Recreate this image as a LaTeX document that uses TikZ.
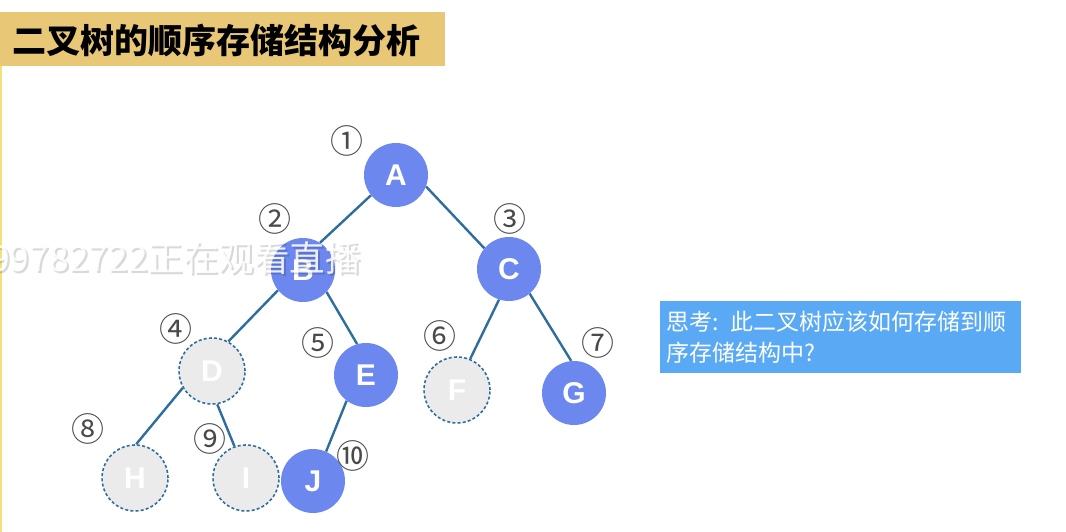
\documentclass[tikz,border=0pt]{standalone}
\usepackage{fontspec}
\setmainfont{Liberation Sans}
\newfontfamily\cjk{Noto Sans CJK SC}
\usetikzlibrary{backgrounds}
\definecolor{nodeblue}{HTML}{6C87EE}
\definecolor{edgeblue}{HTML}{2E6E9E}
\definecolor{emptyfill}{HTML}{EBEBEB}
\definecolor{numgrey}{HTML}{4A4A4A}
\definecolor{titlebar}{HTML}{E8C777}
\definecolor{boxblue}{HTML}{59A9F5}
\definecolor{edgeyellow}{HTML}{F3E07A}
\begin{document}
\begin{tikzpicture}[x=1pt,y=-1pt,
  full/.style={circle,minimum size=64pt,inner sep=0pt,fill=nodeblue,text=white,
    font=\fontsize{30}{30}\selectfont\bfseries},
  hollow/.style={circle,minimum size=66pt,inner sep=0pt,fill=emptyfill,draw=edgeblue,
    line width=1.6pt,dash pattern=on 3pt off 2.2pt,text=white,
    font=\fontsize{30}{30}\selectfont\bfseries},
  treeedge/.style={draw=edgeblue,line width=2.4pt},
  num/.style={text=numgrey,inner sep=0pt,font=\cjk\fontsize{33}{33}\selectfont}
]
\useasboundingbox (0,0) rectangle (1066,532);
% title
\fill[titlebar] (0,12) rectangle (445,66);
\node[anchor=west,inner sep=0pt,font=\cjk\bfseries\fontsize{34}{34}\selectfont] (title) at (12,40) {二叉树的顺序存储结构分析};
\fill[edgeyellow] (0,66) rectangle (1.6,532);

% nodes
\node[full] (A) at (396,175) {A};
\node[full] (B) at (303,270) {B};
\node[full] (C) at (509,269) {C};
\node[hollow] (D) at (212,371) {D};
\node[full] (E) at (366,375) {E};
\node[hollow] (F) at (457,390) {F};
\node[full] (G) at (574,393) {G};
\node[hollow] (H) at (135,478) {H};
\node[hollow] (I) at (246,478) {I};
\node[full] (J) at (313,481) {J};

% numbers
\node[num] (n1) at (347,141) {①};
\node[num] (n2) at (275,219) {②};
\node[num] (n3) at (510,219) {③};
\node[num] (n4) at (176,329) {④};
\node[num] (n5) at (318,343) {⑤};
\node[num] (n6) at (440,336) {⑥};
\node[num] (n7) at (598,343) {⑦};
\node[num] (n8) at (88,429) {⑧};
\node[num] (n9) at (210,439) {⑨};
\node[num] (n10) at (353,456) {⑩};

% edges
\begin{scope}[on background layer]
\fill[white] (0,0) rectangle (1066,532);
\fill[titlebar] (0,12) rectangle (445,66);
\draw[treeedge] (A.219) -- (B.58);
\draw[treeedge] (A.339) -- (C.140);
\draw[treeedge] (B.219) -- (D.61);
\draw[treeedge] (B.317) -- (E.106);
\draw[treeedge] (C.252) -- (F.67);
\draw[treeedge] (C.310) -- (G.95);
\draw[treeedge] (D.210) -- (H.88);
\draw[treeedge] (D.279) -- (I.110);
\draw[treeedge] (E.233) -- (J.66);
\end{scope}

% question box
\node[fill=boxblue,anchor=north west,minimum width=361pt,minimum height=72pt,
  text width=349pt,inner xsep=6pt,inner ysep=5pt,align=left,text=white,
  font=\cjk\fontsize{23}{31}\selectfont] (q) at (660,301)
  {思考: 此二叉树应该如何存储到顺\\序存储结构中?};

% watermark
\node[anchor=west,inner sep=0pt,text=black,text opacity=0.15,
  font=\cjk\fontsize{35.5}{35.5}\selectfont] (wms) at (-8,260) {99782722正在观看直播};
\node[anchor=west,inner sep=0pt,text=white,text opacity=0.88,
  font=\cjk\fontsize{35.5}{35.5}\selectfont] (wm) at (-10,258) {99782722正在观看直播};
\end{tikzpicture}
\end{document}
